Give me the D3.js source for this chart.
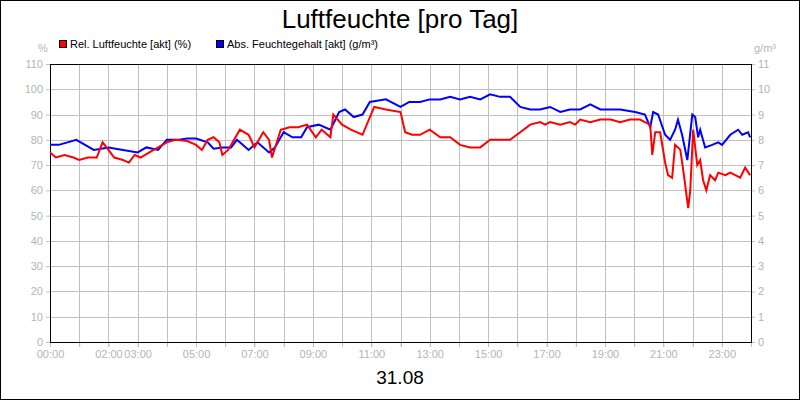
<!DOCTYPE html>
<html>
<head>
<meta charset="utf-8">
<title>Luftfeuchte [pro Tag]</title>
<script src="https://d3js.org/d3.v7.min.js"></script>
<style>
  body { margin: 0; background: #fff; }
  svg { font-family: "Liberation Sans", Arial, sans-serif; }
</style>
</head>
<body>
<svg id="chart" width="800" height="400"></svg>
<script>
// relative humidity (%), time in hours
var relHours = [0.0,0.2,0.5,0.8,1.0,1.3,1.6,1.8,2.0,2.2,2.5,2.7,2.9,3.1,3.4,3.7,4.0,4.3,4.7,5.0,5.2,5.4,5.6,5.8,5.9,6.1,6.3,6.5,6.8,7.0,7.3,7.5,7.6,7.9,8.2,8.5,8.8,9.1,9.3,9.6,9.7,10.0,10.3,10.7,11.1,11.5,12.0,12.16,12.4,12.67,13.0,13.36,13.7,14.04,14.38,14.73,15.07,15.41,15.75,16.1,16.44,16.78,16.95,17.12,17.47,17.8,17.98,18.15,18.5,18.84,19.2,19.52,19.86,20.2,20.37,20.55,20.62,20.72,20.89,21.06,21.16,21.3,21.4,21.5,21.58,21.68,21.85,21.92,22.02,22.16,22.26,22.36,22.47,22.6,22.77,22.88,23.12,23.29,23.46,23.63,23.8,23.97];
var relValues = [75,73,74,73,72,73,73,79,76,73,72,71,74,73,75,77,79,80,79.5,78,76,80,81,79,74,76,80,84,82,77,83,80,73,84,85,85,86,81,84,81,90,86,84,82,93,92,91,83,82,82,84,81,81,78,77,77,80,80,80,83,86,87,86,87,86,87,86,88,87,88,88,87,88,88,87,86,74,83,83,71,66,65,78,77,76,68,53,60,84,70,72,64,60,66,64,67,66,67,66,65,69,66];

// absolute humidity (g/m³), time in hours
var absHours = [0.0,0.3,0.6,0.9,1.2,1.5,2.0,2.5,3.0,3.3,3.7,4.0,4.4,4.7,5.0,5.4,5.6,5.9,6.2,6.4,6.8,7.1,7.5,7.7,8.0,8.3,8.6,8.8,9.2,9.6,9.9,10.1,10.4,10.7,10.95,11.5,12.0,12.3,12.67,13.0,13.36,13.7,14.04,14.38,14.73,15.07,15.41,15.75,16.1,16.44,16.78,17.12,17.47,17.8,18.15,18.5,18.84,19.52,20.03,20.37,20.55,20.65,20.82,21.06,21.23,21.4,21.5,21.64,21.82,21.99,22.09,22.19,22.26,22.43,22.67,22.88,23.01,23.29,23.56,23.7,23.9,23.97];
var absValues = [7.8,7.8,7.9,8.0,7.8,7.6,7.7,7.6,7.5,7.7,7.6,8.0,8.0,8.05,8.05,7.9,7.65,7.7,7.7,8.0,7.6,7.9,7.5,7.7,8.3,8.1,8.1,8.5,8.6,8.4,9.1,9.2,8.9,9.0,9.5,9.6,9.3,9.5,9.5,9.6,9.6,9.7,9.6,9.7,9.6,9.8,9.7,9.7,9.3,9.2,9.2,9.3,9.1,9.2,9.2,9.4,9.2,9.2,9.1,9.0,8.5,9.1,9.0,8.2,8.0,8.4,8.8,8.2,7.2,9.0,8.9,8.1,8.4,7.7,7.8,7.9,7.8,8.2,8.4,8.2,8.3,8.1];

var leftTicks = [0,10,20,30,40,50,60,70,80,90,100,110];
var rightTicks = [0,1,2,3,4,5,6,7,8,9,10,11];
var xLabelHours = [0,2,3,5,7,9,11,13,15,17,19,21,23];
var legendItems = ["Rel. Luftfeuchte [akt] (%)", "Abs. Feuchtegehalt [akt] (g/m³)"];
var seriesColors = ["#ff0000", "#0000ff"];

var svg = d3.select("#chart");
var m = { left: 50, right: 751, top: 64, bottom: 342 };

var x = d3.scaleLinear().domain([0, 24]).range([m.left, m.right]);
var yL = d3.scaleLinear().domain([0, 110]).range([m.bottom, m.top]);
var yR = d3.scaleLinear().domain([0, 11]).range([m.bottom, m.top]);

svg.append("rect").attr("x", 0.5).attr("y", 0.5).attr("width", 799).attr("height", 399)
  .attr("fill", "#fff").attr("stroke", "#000");

// grid
var hours = d3.range(1, 24);
svg.append("g").selectAll("line").data(hours).join("line")
  .attr("x1", d => Math.round(x(d)) + 0.5).attr("x2", d => Math.round(x(d)) + 0.5)
  .attr("y1", m.top).attr("y2", m.bottom + 5)
  .attr("stroke", "#c0c0c0");
svg.append("g").selectAll("line").data(leftTicks.slice(1, -1)).join("line")
  .attr("x1", m.left).attr("x2", m.right)
  .attr("y1", d => Math.round(yL(d)) + 0.5).attr("y2", d => Math.round(yL(d)) + 0.5)
  .attr("stroke", "#c0c0c0");

// axes
var gl = svg.append("g").attr("transform", "translate(" + m.left + ",0)")
  .call(d3.axisLeft(yL).tickValues(leftTicks).tickSize(4).tickPadding(3));
var gr = svg.append("g").attr("transform", "translate(" + m.right + ",0)")
  .call(d3.axisRight(yR).tickValues(rightTicks).tickSize(4).tickPadding(3));
var gb = svg.append("g").attr("transform", "translate(0," + m.bottom + ")")
  .call(d3.axisBottom(x).tickValues(d3.range(0, 25)).tickSize(5).tickPadding(3)
    .tickFormat(d => xLabelHours.indexOf(d) >= 0 ? d3.format("02")(d) + ":00" : ""));
[gl, gr, gb].forEach(function (g) {
  g.select(".domain").remove();
  g.selectAll("line").attr("stroke", "#c0c0c0");
  g.selectAll("text").attr("fill", "#b4b4b4").style("font-size", "11px")
    .style("font-family", "'Liberation Sans', Arial, sans-serif");
});

svg.append("rect").attr("x", m.left + 0.5).attr("y", m.top + 0.5)
  .attr("width", m.right - m.left).attr("height", m.bottom - m.top)
  .attr("fill", "none").attr("stroke", "#000");

// lines
var clip = svg.append("clipPath").attr("id", "clip").append("rect")
  .attr("x", m.left).attr("y", m.top).attr("width", m.right - m.left).attr("height", m.bottom - m.top);
var absLine = d3.line().x((d, i) => x(absHours[i])).y(d => yR(d));
var relLine = d3.line().x((d, i) => x(relHours[i])).y(d => yL(d));
svg.append("path").datum(absValues).attr("d", absLine).attr("fill", "none")
  .attr("stroke", seriesColors[1]).attr("stroke-width", 2).attr("clip-path", "url(#clip)");
svg.append("path").datum(relValues).attr("d", relLine).attr("fill", "none")
  .attr("stroke", seriesColors[0]).attr("stroke-width", 2).attr("clip-path", "url(#clip)");

// title, units, legend
svg.append("text").attr("x", 400).attr("y", 28).attr("text-anchor", "middle")
  .style("font-size", "26px").text("Luftfeuchte [pro Tag]");
svg.append("text").attr("x", 400).attr("y", 384).attr("text-anchor", "middle")
  .style("font-size", "19px").text("31.08");
svg.append("text").attr("x", 43).attr("y", 52).attr("text-anchor", "middle")
  .attr("fill", "#b4b4b4").style("font-size", "11px").text("%");
svg.append("text").attr("x", 765).attr("y", 52).attr("text-anchor", "middle")
  .attr("fill", "#b4b4b4").style("font-size", "11px").text("g/m³");

var legX = [59, 216];
var leg = svg.append("g").selectAll("g").data(legendItems).join("g")
  .attr("transform", (d, i) => "translate(" + legX[i] + ",40)");
leg.append("rect").attr("x", 0.5).attr("y", 0.5).attr("width", 7).attr("height", 7)
  .attr("fill", (d, i) => seriesColors[i]).attr("stroke", "#000");
leg.append("text").attr("x", 11).attr("y", 8).style("font-size", "11px").text(d => d);
</script>
</body>
</html>
